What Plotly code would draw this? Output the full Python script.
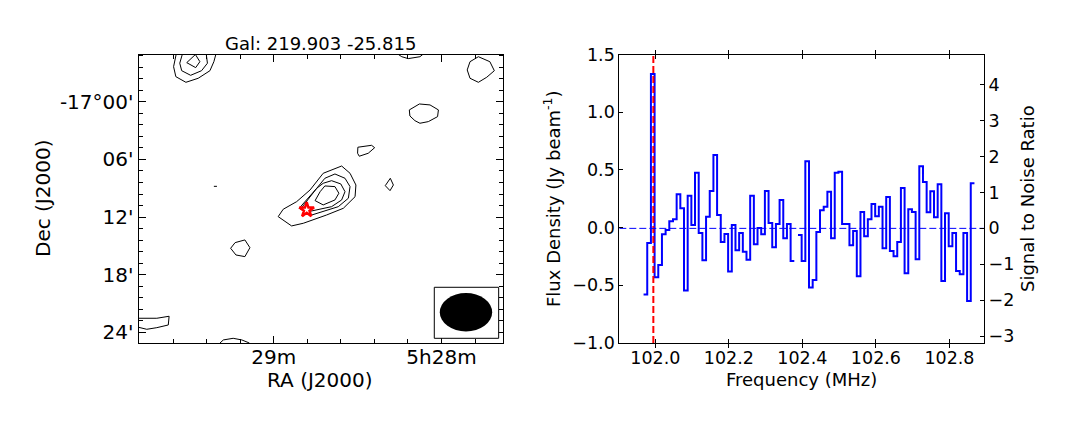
#!/usr/bin/env python3
"""Contour map of the source and its spectrum, side by side."""

import plotly.graph_objects as go

# contours: RA seconds after 5h28m, Dec arcmin south of -17 deg
CONTOURS = [
    ([94.9, 95.8, 95.0, 91.4, 87.0, 82.8, 81.4, 80.7], [-4.95, -3.68, -2.64, -2.05, -2.47, -3.26, -4.2, -4.95]),
    ([92.7, 93.6, 92.9, 89.7, 85.8, 83.7, 84.1], [-4.95, -4.04, -3.26, -2.78, -3.26, -4.04, -4.95]),
    ([88.0, 91.1, 87.9, 86.4, 88.0], [-4.95, -4.1, -3.58, -4.2, -4.95]),
    ([15.4, 14.2, 11.9, 7.7, 6.7], [-4.95, -4.72, -4.52, -4.72, -4.95]),
    ([-13.2, -17.3, -18.9, -16.2, -13.2, -10.2, -9.2, -10.2, -13.2], [-4.72, -4.2, -3.26, -2.58, -2.05, -2.47, -3.34, -4.2, -4.72]),
    ([7.9, 4.1, 1.1, 1.4, 4.7, 7.7, 9.5, 11.3, 11.5, 7.9], [0.21, 0.31, 0.83, 1.53, 2.05, 2.22, 1.95, 1.46, 0.83, 0.21]),
    ([29.9, 25.0, 23.9, 26.2, 29.4, 30.0, 29.9], [4.72, 4.52, 4.77, 5.35, 5.66, 5.35, 4.72]),
    ([18.3, 17.2, 18.4, 20.1, 18.3], [7.96, 8.66, 9.25, 8.73, 7.96]),
    ([81.4, 80.3], [8.8, 8.8]),
    ([70.3, 68.5, 70.3, 73.5, 75.4, 73.8, 70.3], [14.39, 15.2, 16.13, 15.96, 15.26, 14.67, 14.39]),
    ([108.35, 101.8, 97.4, 97.7, 101.8, 105.4, 108.35], [22.56, 22.56, 22.35, 23.26, 23.54, 23.71, 23.5]),
    ([79.2, 78.0, 74.5, 71.4, 68.7], [25.14, 24.82, 24.65, 24.82, 25.14]),
    # main source, outer to inner
    ([35.7, 32.7, 30.6, 30.9, 35.1, 41.1, 49.4, 53.6, 58.4, 56.6, 51.8, 47.0, 42.3, 35.7],
     [6.68, 7.44, 8.66, 9.88, 11.09, 11.79, 12.65, 12.93, 11.96, 11.19, 10.4, 9.18, 7.44, 6.68]),
    ([38.1, 34.5, 32.7, 33.3, 36.9, 42.3, 46.4, 50.9, 48.2, 44.6, 41.7, 38.1],
     [7.51, 7.96, 8.83, 10.04, 10.92, 11.44, 11.79, 11.09, 10.22, 9.0, 7.96, 7.51]),
    ([39.3, 36.0, 34.5, 35.7, 39.3, 44.1, 47.6, 50.0, 47.3, 44.6, 42.3, 39.3],
     [8.21, 8.55, 9.36, 10.22, 10.92, 11.26, 11.44, 11.02, 10.04, 9.0, 8.48, 8.21]),
    ([41.7, 38.1, 36.7, 38.1, 42.3, 45.2, 43.4, 41.7], [8.76, 8.83, 9.52, 10.22, 10.74, 10.29, 9.36, 8.76]),
]
SOURCE_RA = [48.2]
SOURCE_DEC = [11.26]

RA_TICKS = [60, 0]
RA_LABELS = ["29m", "5h28m"]
DEC_TICKS = [0, 6, 12, 18, 24]
DEC_LABELS = ["-17°00'", "06'", "12'", "18'", "24'"]

# spectrum, Jy/beam per channel (None = flagged channel)
FREQ_START = 101.968
CHANNEL_WIDTH = 0.01
FLUX = [
    -0.58, -0.133, 1.33, -0.43, -0.325, -0.058, -0.02, 0.055, 0.072, 0.29,
    0.168, -0.544, 0.275, 0.023, 0.475, -0.046, -0.284, 0.093, 0.318, 0.63,
    0.11, -0.124, -0.055, -0.38, 0.023, -0.197, -0.046, -0.21, -0.278, 0.275,
    -0.145, -0.003, -0.058, 0.318, 0.04, -0.17, 0.032, 0.24, -0.093, 0.032,
    -0.29, None, -0.064, -0.29, 0.576, -0.518, -0.454, -0.038, 0.15, 0.18,
    0.31, -0.093, 0.475, 0.483, 0.032, 0.032, -0.153, -0.029, -0.422, 0.136,
    -0.075, 0.072, 0.205, 0.098, 0.18, -0.18, 0.266, -0.203, -0.249, -0.124,
    0.344, -0.396, 0.159, 0.136, -0.275, 0.532, 0.396, 0.133, 0.315, 0.09,
    0.376, -0.463, 0.124, -0.162, -0.046, -0.376, -0.405, -0.046, -0.637, 0.385,
]
LINE_FREQ = 101.9946
FLUX_TICKS = [-1.0, -0.5, 0.0, 0.5, 1.0, 1.5]
FREQ_TICKS = [102.0, 102.2, 102.4, 102.6, 102.8]
SNR_TICKS = [-3, -2, -1, 0, 1, 2, 3, 4]

W, H = 1073, 426
FONT = "DejaVu Sans"
MAP_SIZE = 20
SPEC_SIZE = 17.5
LABEL_SIZE = 18


def label(text, x_px, y_px, size, angle=0):
    return dict(text=text, xref="paper", yref="paper", x=x_px / W, y=1 - y_px / H, textangle=angle,
                xanchor="center", yanchor="middle", showarrow=False, font=dict(family=FONT, size=size, color="black"))


fig = go.Figure()

for ra, dec in CONTOURS:
    fig.add_trace(go.Scatter(x=ra, y=dec, mode="lines", line=dict(color="black", width=1), showlegend=False,
                             xaxis="x", yaxis="y"))

fig.add_trace(go.Scatter(x=SOURCE_RA, y=SOURCE_DEC, mode="markers", showlegend=False, xaxis="x", yaxis="y",
                         marker=dict(symbol="star", size=11, color="white", line=dict(color="red", width=2.5))))

# each channel drawn as a flat step, gaps stay open
step_x, step_y = [], []
for i, v in enumerate(FLUX):
    left = FREQ_START + i * CHANNEL_WIDTH
    step_x += [left, left + CHANNEL_WIDTH]
    step_y += [v, v]
fig.add_trace(go.Scatter(x=step_x, y=step_y, mode="lines", line=dict(color="#0000ff", width=2), showlegend=False,
                         connectgaps=False, xaxis="x2", yaxis="y2"))
fig.add_trace(go.Scatter(x=[101.902, 102.894], y=[0, 0], mode="lines", showlegend=False, xaxis="x2", yaxis="y3",
                         line=dict(color="#0000ff", width=1, dash="7px,3px")))
fig.add_trace(go.Scatter(x=[LINE_FREQ, LINE_FREQ], y=[-1.0, 1.5], mode="lines", showlegend=False, xaxis="x2", yaxis="y2",
                         line=dict(color="#ff0000", width=2, dash="7px,3px")))

axis_common = dict(showgrid=False, zeroline=False, showline=True, linecolor="black", linewidth=1, automargin=False,
                   ticks="inside", tickcolor="black", tickwidth=1)

fig.update_layout(
    width=W,
    height=H,
    margin=dict(l=0, r=0, t=0, b=0),
    paper_bgcolor="white",
    plot_bgcolor="white",
    font=dict(family=FONT, color="black"),
    xaxis=dict(axis_common, domain=[138.5 / W, 503 / W], anchor="y", range=[108.35, -22.0], mirror="allticks",
               tickmode="array", tickvals=RA_TICKS, ticktext=RA_LABELS, ticklen=7, ticklabelstandoff=-4,
               tickfont=dict(family=FONT, size=MAP_SIZE, color="black"),
               minor=dict(ticks="inside", ticklen=4, tickcolor="black", dtick=12, tick0=0, showgrid=False)),
    yaxis=dict(axis_common, domain=[1 - 343 / H, 1 - 54.5 / H], anchor="x", range=[25.14, -4.95], mirror="allticks",
               tickmode="array", tickvals=DEC_TICKS, ticktext=DEC_LABELS, ticklen=7,
               tickfont=dict(family=FONT, size=MAP_SIZE, color="black"),
               minor=dict(ticks="inside", ticklen=4, tickcolor="black", dtick=1.2, tick0=0, showgrid=False)),
    xaxis2=dict(axis_common, domain=[619.3 / W, 984 / W], anchor="y2", range=[101.902, 102.894], mirror="allticks",
                tickmode="array", tickvals=FREQ_TICKS, tickformat=".1f", ticklen=4, ticklabelstandoff=-1,
                tickfont=dict(family=FONT, size=SPEC_SIZE, color="black")),
    yaxis2=dict(axis_common, domain=[1 - 343 / H, 1 - 54.5 / H], anchor="x2", range=[-1.0, 1.5], mirror=True,
                tickmode="array", tickvals=FLUX_TICKS, tickformat=".1f", ticklen=4,
                tickfont=dict(family=FONT, size=SPEC_SIZE, color="black")),
    yaxis3=dict(axis_common, domain=[1 - 343 / H, 1 - 54.5 / H], anchor="x2", overlaying="y2", side="right",
                range=[-3.1865, 4.8335], tickmode="array", tickvals=SNR_TICKS, ticklen=4,
                tickfont=dict(family=FONT, size=SPEC_SIZE, color="black")),
    annotations=[
        label("Gal: 219.903 -25.815", 320.5, 43.5, LABEL_SIZE),
        label("RA (J2000)", 320, 380, MAP_SIZE),
        label("Dec (J2000)", 43, 199, MAP_SIZE, -90),
        label("Frequency (MHz)", 801, 379, LABEL_SIZE),
        label("Flux Density (Jy beam<sup>-1</sup>)", 552, 199, LABEL_SIZE, -90),
        label("Signal to Noise Ratio", 1027, 199, LABEL_SIZE, -90),
    ],
    shapes=[
        # beam inset
        dict(type="rect", xref="x", yref="y", x0=2.57, x1=-20.45, y0=19.33, y1=24.65,
             fillcolor="white", line=dict(color="black", width=1), layer="above"),
        dict(type="circle", xref="x", yref="y", x0=0.61, x1=-18.13, y0=19.93, y1=23.93,
             fillcolor="black", line=dict(color="black", width=0), layer="above"),
    ],
)

# drop the browser's default page margin so the figure sits at the window corner
fig.write_html("out.html", config=dict(displayModeBar=False), post_script="document.body.style.margin='0';")
